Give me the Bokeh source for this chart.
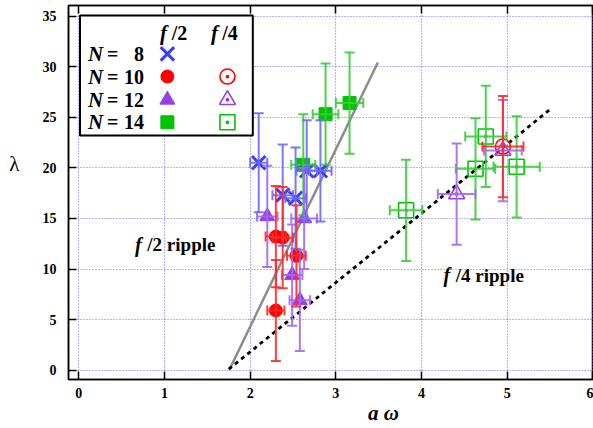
from bokeh.plotting import figure
from bokeh.models import Whisker, ColumnDataSource, LinearAxis, Range1d, FixedTicker, TeeHead
from bokeh.embed import file_html
from bokeh.resources import INLINE
from bokeh.core.properties import value

# ---------------- data ----------------
n8_f2_x = [2.10, 2.38, 2.53, 2.66, 2.82]
n8_f2_y = [20.5, 17.3, 17.0, 19.7, 19.7]
n8_f2_xe = [0.10, 0.12, 0.12, 0.12, 0.13]
n8_f2_ye = [4.9, 5.0, 5.0, 5.0, 5.0]

n10_f2_x = [2.30, 2.38, 2.54, 2.30]
n10_f2_y = [13.2, 13.1, 11.3, 5.9]
n10_f2_xe = [0.12, 0.12, 0.11, 0.10]
n10_f2_ye = [5.0, 5.0, 5.0, 5.0]

n12_f2_x = [2.20, 2.63, 2.49, 2.58]
n12_f2_y = [15.2, 15.0, 9.4, 6.9]
n12_f2_xe = [0.12, 0.15, 0.12, 0.12]
n12_f2_ye = [5.0, 5.0, 5.0, 5.0]

n14_f2_x = [2.62, 2.88, 3.16]
n14_f2_y = [20.3, 25.3, 26.4]
n14_f2_xe = [0.14, 0.15, 0.16]
n14_f2_ye = [5.0, 5.0, 5.0]

n10_f4_x = [4.95]
n10_f4_y = [22.1]
n10_f4_xe = [0.24]
n10_f4_ye = [5.0]

n12_f4_x = [4.41, 4.95]
n12_f4_y = [17.4, 21.7]
n12_f4_xe = [0.22, 0.22]
n12_f4_ye = [5.0, 5.0]

n14_f4_x = [3.82, 4.63, 4.75, 5.11]
n14_f4_y = [15.8, 19.9, 23.1, 20.1]
n14_f4_xe = [0.19, 0.23, 0.24, 0.27]
n14_f4_ye = [5.0, 5.0, 5.0, 5.0]

f2_line_x = [1.76, 3.49]
f2_line_y = [0.1, 30.4]
f4_line_x = [1.75, 5.49]
f4_line_y = [0.1, 25.7]

x_ticks = [0, 1, 2, 3, 4, 5, 6]
y_ticks = [0, 5, 10, 15, 20, 25, 30, 35]
legend_rows = ["8", "10", "12", "14"]

SERIF = "Liberation Serif"
BLUE, BLUE_E = "#3c3cff", "#6a6aff"
RED, RED_E = "#ff0000", "#ff2a2a"
PURP, PURP_E = "#9440e6", "#a468ee"
GREEN, GREEN_E = "#00c400", "#3ccc3c"

p = figure(width=593, height=428, output_backend="svg", toolbar_location=None,
           x_range=Range1d(-0.12, 6.007), y_range=Range1d(-0.92, 36.04),
           min_border_left=68, min_border_right=0, min_border_top=5, min_border_bottom=49)
p.background_fill_color = "white"
p.outline_line_color = "black"
p.outline_line_width = 1.5

for ax in (p.xaxis[0], p.yaxis[0]):
    ax.major_tick_in = 8
    ax.major_tick_out = 0
    ax.minor_tick_line_color = None
    ax.axis_line_width = 1.5
    ax.major_tick_line_width = 1.5
    ax.major_label_text_font = SERIF
    ax.major_label_text_font_style = "bold"
    ax.major_label_text_font_size = "14px"
    ax.major_label_text_color = "black"
    ax.axis_label_text_font = SERIF
    ax.axis_label_text_color = "black"
p.xaxis[0].ticker = FixedTicker(ticks=x_ticks)
p.yaxis[0].ticker = FixedTicker(ticks=y_ticks)
p.xaxis[0].major_label_standoff = 8
p.yaxis[0].major_label_standoff = 12

NB = "\u00a0"
p.yaxis[0].axis_label = "λ\n" + NB + "\n" + NB
p.yaxis[0].axis_label_orientation = "horizontal"
p.yaxis[0].axis_label_text_font_size = "21px"
p.yaxis[0].axis_label_text_font_style = "normal"
p.yaxis[0].axis_label_standoff = 20

p.xaxis[0].axis_label = NB * 20 + "a ω"
p.xaxis[0].axis_label_text_font_size = "21px"
p.xaxis[0].axis_label_text_font_style = "bold italic"
p.xaxis[0].axis_label_standoff = 0

top = LinearAxis(ticker=FixedTicker(ticks=x_ticks), major_tick_in=8, major_tick_out=0,
                 minor_tick_line_color=None, major_label_text_font_size="1px",
                 major_label_overrides={t: "" for t in x_ticks},
                 major_label_standoff=0, axis_line_width=1.5, major_tick_line_width=1.5)
p.add_layout(top, "above")

p.xgrid.ticker = FixedTicker(ticks=x_ticks)
p.ygrid.ticker = FixedTicker(ticks=y_ticks)
for g in (p.xgrid[0], p.ygrid[0]):
    g.grid_line_color = "#5a5aff"
    g.grid_line_dash = "1 2"
    g.grid_line_width = 1.2
    g.grid_line_alpha = 0.9

# fit lines
p.line(f2_line_x, f2_line_y, line_color="#8c8c8c", line_width=2.5)
p.line(f4_line_x, f4_line_y, line_color="black", line_width=2.8, line_dash="4 4")


def errbars(xs, ys, xe, ye, color):
    src = ColumnDataSource(dict(x=xs, y=ys,
                                xl=[a - b for a, b in zip(xs, xe)], xu=[a + b for a, b in zip(xs, xe)],
                                yl=[a - b for a, b in zip(ys, ye)], yu=[a + b for a, b in zip(ys, ye)]))
    for dim, base, lo, hi in (("height", "x", "yl", "yu"), ("width", "y", "xl", "xu")):
        w = Whisker(source=src, base=base, lower=lo, upper=hi, dimension=dim,
                    line_color=color, line_width=2, line_alpha=0.9,
                    upper_head=TeeHead(size=10, line_color=color, line_width=2, line_alpha=0.9),
                    lower_head=TeeHead(size=10, line_color=color, line_width=2, line_alpha=0.9))
        w.level = "glyph"
        p.add_layout(w)

errbars(n14_f4_x, n14_f4_y, n14_f4_xe, n14_f4_ye, GREEN_E)
errbars(n12_f4_x, n12_f4_y, n12_f4_xe, n12_f4_ye, PURP_E)
errbars(n10_f4_x, n10_f4_y, n10_f4_xe, n10_f4_ye, RED_E)
errbars(n14_f2_x, n14_f2_y, n14_f2_xe, n14_f2_ye, GREEN_E)
errbars(n12_f2_x, n12_f2_y, n12_f2_xe, n12_f2_ye, PURP_E)
errbars(n8_f2_x, n8_f2_y, n8_f2_xe, n8_f2_ye, BLUE_E)
errbars(n10_f2_x, n10_f2_y, n10_f2_xe, n10_f2_ye, RED_E)

p.scatter(n14_f4_x, n14_f4_y, marker="square_dot", size=15, fill_color=None, line_color=GREEN, line_width=1.6)
p.scatter(n12_f4_x, n12_f4_y, marker="triangle_dot", size=16, fill_color=None, line_color=PURP, line_width=1.6)
p.scatter(n10_f4_x, n10_f4_y, marker="circle_dot", size=15, fill_color=None, line_color=RED, line_width=1.6)
p.scatter(n14_f2_x, n14_f2_y, marker="square", size=13, fill_color=GREEN, line_color=GREEN)
p.scatter(n12_f2_x, n12_f2_y, marker="triangle", size=15, fill_color=PURP, line_color=PURP)
p.scatter(n8_f2_x, n8_f2_y, marker="x", size=19, line_color=BLUE, line_width=3)
p.scatter(n10_f2_x, n10_f2_y, marker="circle", size=13, fill_color=RED, line_color=RED)

# region labels
def txt(x, y, s, size, style, align="left"):
    p.text([x], [y], text=[s], text_font=value(SERIF), text_font_size=size,
           text_font_style=style, text_align=align, text_baseline="middle", text_color="black")

txt(0.656, 12.42, "f", "20px", "bold italic")
txt(0.80, 12.42, "/2 ripple", "19px", "bold")
txt(4.255, 9.36, "f", "20px", "bold italic")
txt(4.40, 9.36, "/4 ripple", "19px", "bold")

# legend box
p.quad(left=[0.014], right=[2.031], top=[35.05], bottom=[23.19],
       fill_color="white", line_color="black", line_width=2)
txt(0.949, 33.3, "f", "21px", "bold italic")
txt(1.085, 33.3, "/2", "20px", "bold")
txt(1.544, 33.3, "f", "21px", "bold italic")
txt(1.675, 33.3, "/4", "20px", "bold")
row_y = [31.26, 29.02, 26.72, 24.5]
for ry, n in zip(row_y, legend_rows):
    txt(0.107, ry, "N", "21px", "bold italic")
    txt(0.33, ry, "=", "20px", "bold")
    txt(0.762, ry, n, "20px", "bold", align="right")
col2, col4 = 1.034, 1.735
p.scatter([col2], [row_y[0]], marker="x", size=19, line_color=BLUE, line_width=3)
p.scatter([col2], [row_y[1]], marker="circle", size=13, fill_color=RED, line_color=RED)
p.scatter([col2], [row_y[2]], marker="triangle", size=15, fill_color=PURP, line_color=PURP)
p.scatter([col2], [row_y[3]], marker="square", size=13, fill_color=GREEN, line_color=GREEN)
p.scatter([col4], [row_y[1]], marker="circle_dot", size=15, fill_color=None, line_color=RED, line_width=1.6)
p.scatter([col4], [row_y[2]], marker="triangle_dot", size=16, fill_color=None, line_color=PURP, line_width=1.6)
p.scatter([col4], [row_y[3]], marker="square_dot", size=15, fill_color=None, line_color=GREEN, line_width=1.6)

open("out.html", "w").write(file_html(p, INLINE))
